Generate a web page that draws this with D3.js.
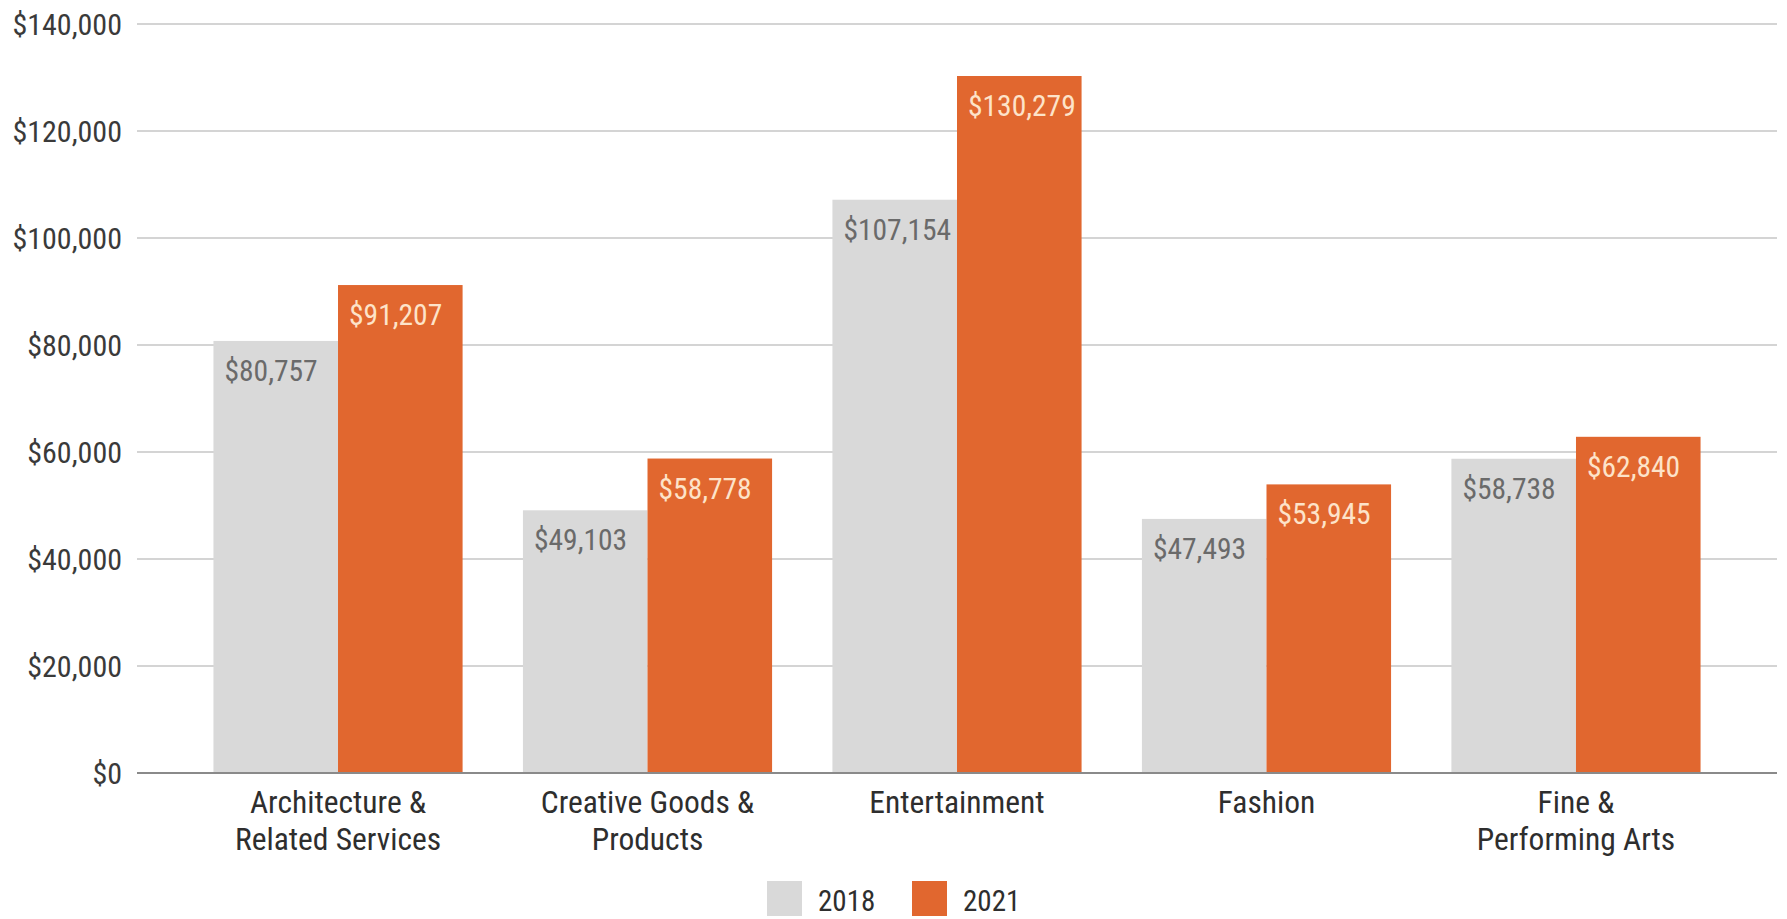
<!DOCTYPE html>
<html>
<head>
<meta charset="utf-8">
<script src="https://cdn.jsdelivr.net/npm/d3@7"></script>
<style>
  body { margin: 0; background: #fff; }
  svg text { font-family: "Roboto Condensed", "Liberation Sans Narrow", "DejaVu Sans Condensed", sans-serif; font-stretch: condensed; }
</style>
</head>
<body>
<div id="chart"></div>
<script>
// Data
const categories = [
    ["Architecture &", "Related Services"],
    ["Creative Goods &", "Products"],
    ["Entertainment"],
    ["Fashion"],
    ["Fine &", "Performing Arts"]
];
const seriesNames = ["2018", "2021"];
const values2018 = [80757, 49103, 107154, 47493, 58738];
const values2021 = [91207, 58778, 130279, 53945, 62840];
const yTicks = [0, 20000, 40000, 60000, 80000, 100000, 120000, 140000];

const W = 1787, H = 919;
const margin = { top: 24, right: 10, bottom: 146, left: 137 };
const innerW = W - margin.left - margin.right;
const innerH = H - margin.top - margin.bottom;

const colors = { "2018": "#d9d9d9", "2021": "#e1672f" };
const labelColors = { "2018": "#6a6a6a", "2021": "#fde3c9" };

const svg = d3.select("#chart")
    .append("svg")
    .attr("width", W)
    .attr("height", H);

const g = svg.append("g")
    .attr("transform", `translate(${margin.left},${margin.top})`);

const x0 = d3.scaleBand()
    .domain(d3.range(categories.length))
    .range([0, innerW])
    .paddingInner(0.195)
    .paddingOuter(0.247);

const x1 = d3.scaleBand()
    .domain(seriesNames)
    .range([0, x0.bandwidth()]);

const y = d3.scaleLinear()
    .domain([0, 140000])
    .range([innerH, 0]);

// gridlines
g.selectAll(".grid")
    .data(yTicks.filter(d => d > 0))
    .enter()
    .append("line")
    .attr("class", "grid")
    .attr("x1", 0)
    .attr("x2", innerW)
    .attr("y1", d => y(d))
    .attr("y2", d => y(d))
    .attr("stroke", "#d4d4d4")
    .attr("stroke-width", 2);

// y axis labels
const yAxis = g.append("g")
    .call(d3.axisLeft(y).tickValues(yTicks).tickSize(0).tickPadding(15)
        .tickFormat(d => "$" + d3.format(",")(d)));
yAxis.select(".domain").remove();
yAxis.selectAll("text")
    .attr("font-size", 30)
    .attr("fill", "#3a3a3a")
    .attr("dy", "0.36em");

// bars
const rows = categories.map((c, i) => [
    { key: "2018", i: i, value: values2018[i] },
    { key: "2021", i: i, value: values2021[i] }
]);

const groups = g.selectAll(".group")
    .data(rows)
    .enter()
    .append("g")
    .attr("class", "group")
    .attr("transform", (d, i) => `translate(${x0(i)},0)`);

groups.selectAll("rect")
    .data(d => d)
    .enter()
    .append("rect")
    .attr("x", d => x1(d.key))
    .attr("y", d => y(d.value))
    .attr("width", x1.bandwidth())
    .attr("height", d => innerH - y(d.value))
    .attr("fill", d => colors[d.key]);

groups.selectAll(".val")
    .data(d => d)
    .enter()
    .append("text")
    .attr("class", "val")
    .attr("x", d => x1(d.key) + 11)
    .attr("y", d => y(d.value) + 40)
    .attr("font-size", 29.5)
    .attr("fill", d => labelColors[d.key])
    .text(d => "$" + d3.format(",")(d.value));

// baseline
g.append("line")
    .attr("x1", 0)
    .attr("x2", innerW)
    .attr("y1", y(0))
    .attr("y2", y(0))
    .attr("stroke", "#8a8a8a")
    .attr("stroke-width", 2);

// category labels
const catLabels = g.selectAll(".cat")
    .data(categories)
    .enter()
    .append("text")
    .attr("class", "cat")
    .attr("x", (d, i) => x0(i) + x0.bandwidth() / 2)
    .attr("y", innerH + 40)
    .attr("text-anchor", "middle")
    .attr("font-size", 31.5)
    .attr("fill", "#2e2e2e");

catLabels.selectAll("tspan")
    .data(d => d)
    .enter()
    .append("tspan")
    .attr("x", function () { return d3.select(this.parentNode).attr("x"); })
    .attr("dy", (d, i) => i === 0 ? 0 : 37)
    .text(d => d);

// legend
const legend = svg.append("g")
    .attr("transform", "translate(767,881)");

const legendItems = legend.selectAll(".leg")
    .data(seriesNames)
    .enter()
    .append("g")
    .attr("class", "leg")
    .attr("transform", (d, i) => `translate(${i * 145},0)`);

legendItems.append("rect")
    .attr("width", 35)
    .attr("height", 35)
    .attr("fill", d => colors[d]);

legendItems.append("text")
    .attr("x", 51)
    .attr("y", 30)
    .attr("font-size", 29)
    .attr("fill", "#2e2e2e")
    .text(d => d);
</script>
</body>
</html>
